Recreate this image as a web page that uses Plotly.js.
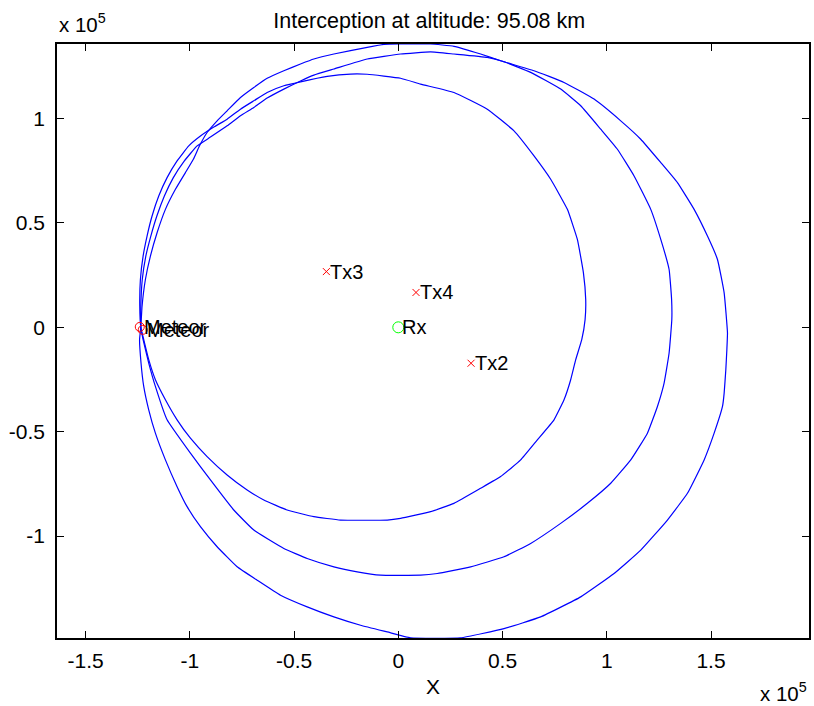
<!DOCTYPE html>
<html>
<head>
<meta charset="utf-8">
<script src="https://cdn.plot.ly/plotly-3.0.1.min.js"></script>
<style>
  html, body { margin: 0; padding: 0; background: #ffffff; }
  #chart { width: 814px; height: 706px; }
</style>
</head>
<body>
<div id="chart"></div>
<script>
// Horizontal loci (units of 1e5 m) where the summed path length matches
// the measured one, one closed curve per transmitter/receiver pair.
const locusTx3X = [-1.235, -1.240, -1.237, -1.224, -1.205, -1.181, -1.149, -1.109, -1.061, -1.005,
  -0.949, -0.885, -0.821, -0.757, -0.693, -0.629, -0.549, -0.469, -0.341, -0.229,
  -0.149, 0.011, 0.107, 0.267, 0.427, 0.555, 0.651, 0.731, 0.811, 0.859,
  0.888, 0.899, 0.896, 0.880, 0.851, 0.827, 0.795, 0.747, 0.667, 0.587,
  0.491, 0.395, 0.267, 0.155, 0.011, -0.053, -0.277, -0.405, -0.533, -0.645,
  -0.725, -0.821, -0.917, -0.997, -1.061, -1.117, -1.165, -1.197, -1.221, -1.235];
const locusTx3Y = [0.000, 0.101, 0.229, 0.341, 0.437, 0.533, 0.629, 0.717, 0.797, 0.869,
  0.916, 0.959, 0.997, 1.045, 1.085, 1.125, 1.157, 1.176, 1.202, 1.213,
  1.212, 1.193, 1.165, 1.125, 1.045, 0.941, 0.821, 0.709, 0.565, 0.421,
  0.261, 0.133, 0.037, -0.059, -0.155, -0.251, -0.347, -0.443, -0.539, -0.635,
  -0.715, -0.771, -0.843, -0.883, -0.915, -0.923, -0.923, -0.907, -0.875, -0.827,
  -0.779, -0.707, -0.619, -0.531, -0.443, -0.347, -0.251, -0.155, -0.059, 0.000];

const locusTx4X = [-1.235, -1.235, -1.228, -1.211, -1.187, -1.158, -1.122, -1.079, -1.026, -0.965,
  -0.901, -0.821, -0.757, -0.693, -0.629, -0.549, -0.469, -0.405, -0.309, -0.149,
  0.011, 0.155, 0.267, 0.427, 0.507, 0.635, 0.779, 0.875, 0.971, 1.051,
  1.131, 1.211, 1.259, 1.299, 1.311, 1.312, 1.299, 1.275, 1.243, 1.195,
  1.115, 1.019, 0.907, 0.779, 0.635, 0.507, 0.347, 0.187, 0.107, -0.085,
  -0.197, -0.309, -0.437, -0.549, -0.693, -0.789, -0.901, -0.997, -1.109, -1.165,
  -1.197, -1.224, -1.235];
const locusTx4Y = [0.000, 0.101, 0.229, 0.341, 0.437, 0.533, 0.629, 0.717, 0.797, 0.869,
  0.911, 0.965, 1.013, 1.053, 1.098, 1.141, 1.180, 1.208, 1.237, 1.285,
  1.309, 1.319, 1.309, 1.293, 1.272, 1.221, 1.141, 1.061, 0.949, 0.853,
  0.725, 0.565, 0.421, 0.277, 0.133, 0.037, -0.123, -0.267, -0.379, -0.507,
  -0.635, -0.747, -0.843, -0.939, -1.035, -1.099, -1.147, -1.179, -1.187, -1.187,
  -1.171, -1.147, -1.107, -1.059, -0.971, -0.875, -0.731, -0.603, -0.443, -0.283,
  -0.171, -0.059, 0.000];

const locusTx2X = [-1.235, -1.229, -1.213, -1.189, -1.157, -1.117, -1.069, -1.021, -0.983, -0.954,
  -0.917, -0.869, -0.821, -0.757, -0.693, -0.629, -0.549, -0.469, -0.405, -0.309,
  -0.149, -0.069, 0.011, 0.155, 0.267, 0.395, 0.491, 0.651, 0.795, 0.939,
  1.067, 1.163, 1.259, 1.339, 1.419, 1.483, 1.531, 1.563, 1.579, 1.576,
  1.571, 1.563, 1.555, 1.515, 1.467, 1.387, 1.291, 1.163, 1.035, 0.875,
  0.683, 0.507, 0.299, 0.059, -0.053, -0.181, -0.309, -0.437, -0.565, -0.677,
  -0.773, -0.869, -0.949, -1.013, -1.061, -1.117, -1.165, -1.197, -1.221, -1.234,
  -1.241, -1.235];
const locusTx2Y = [0.000, 0.101, 0.229, 0.341, 0.453, 0.565, 0.661, 0.741, 0.805, 0.868,
  0.933, 0.989, 1.037, 1.101, 1.149, 1.193, 1.229, 1.261, 1.285, 1.309,
  1.341, 1.355, 1.357, 1.357, 1.346, 1.309, 1.277, 1.229, 1.173, 1.093,
  0.989, 0.901, 0.789, 0.693, 0.565, 0.437, 0.325, 0.165, -0.027, -0.107,
  -0.203, -0.315, -0.379, -0.507, -0.635, -0.795, -0.923, -1.067, -1.179, -1.291,
  -1.387, -1.443, -1.487, -1.487, -1.459, -1.427, -1.387, -1.339, -1.283, -1.211,
  -1.147, -1.051, -0.955, -0.859, -0.763, -0.635, -0.507, -0.395, -0.283, -0.171,
  -0.059, 0.000];

// Station positions (units of 1e5 m)
const txNames = ['Tx2', 'Tx3', 'Tx4'];
const txX = [0.349, -0.345, 0.085];
const txY = [-0.172, 0.267, 0.167];
const rxNames = ['Rx'];
const rxX = [0.0];
const rxY = [0.0];
const meteorNames = ['Meteor', 'Meteor'];
const meteorX = [-1.240, -1.226];
const meteorY = [0.002, -0.012];

// Axis ticks
const xTickVals = [-1.5, -1, -0.5, 0, 0.5, 1, 1.5];
const xTickText = ['-1.5', '-1', '-0.5', '0', '0.5', '1', '1.5'];
const yTickVals = [-1, -0.5, 0, 0.5, 1];
const yTickText = ['-1', '-0.5', '0', '0.5', '1'];

const FONT = 'Arial, "Liberation Sans", Helvetica, sans-serif';
const BLUE = '#0000ff';

const locusLine = { color: BLUE, width: 1.2, shape: 'spline', smoothing: 0.35 };
const traces = [
  { x: locusTx3X, y: locusTx3Y, mode: 'lines', line: locusLine, hoverinfo: 'skip' },
  { x: locusTx4X, y: locusTx4Y, mode: 'lines', line: locusLine, hoverinfo: 'skip' },
  { x: locusTx2X, y: locusTx2Y, mode: 'lines', line: locusLine, hoverinfo: 'skip' },
  { x: txX, y: txY, mode: 'markers', hoverinfo: 'skip',
    marker: { symbol: 'x-thin-open', size: 7, color: '#ff0000', line: { color: '#ff0000', width: 1 } } },
  { x: rxX, y: rxY, mode: 'markers', hoverinfo: 'skip',
    marker: { symbol: 'circle-open', size: 11, color: '#00ff00', line: { color: '#00ff00', width: 1 } } },
  { x: meteorX, y: meteorY, mode: 'markers', hoverinfo: 'skip',
    marker: { symbol: 'circle-open', size: 9, color: '#ff0000', line: { color: '#ff0000', width: 1 } } }
];

// Point labels, left-aligned just right of each marker
function pointLabels(names, xs, ys) {
  return names.map((t, i) => ({
    x: xs[i], y: ys[i], xref: 'x', yref: 'y', text: t, showarrow: false,
    xanchor: 'left', yanchor: 'middle', xshift: 2,
    font: { family: FONT, size: 20, color: '#000000' }
  }));
}

const annotations = [
  ...pointLabels(txNames, txX, txY),
  ...pointLabels(rxNames, rxX, rxY),
  ...pointLabels(meteorNames, meteorX, meteorY),
  // axis multipliers
  { xref: 'paper', yref: 'paper', x: 0, y: 1.0106, xanchor: 'left', yanchor: 'bottom',
    text: 'x 10<sup>5</sup>', showarrow: false, font: { family: FONT, size: 20.5, color: '#000' } },
  { xref: 'paper', yref: 'paper', x: 1, y: -0.1168, xanchor: 'right', yanchor: 'bottom',
    text: 'x 10<sup>5</sup>', showarrow: false, font: { family: FONT, size: 20.5, color: '#000' } }
];

const axisCommon = {
  ticks: 'inside', ticklen: 7, tickwidth: 1, tickcolor: '#000000',
  showline: true, linecolor: '#000000', linewidth: 1.5, mirror: 'ticks',
  showgrid: false, zeroline: false, autorange: false,
  tickfont: { family: FONT, size: 21, color: '#000000' }
};

const layout = {
  width: 814, height: 706,
  margin: { l: 57, r: 5, t: 44, b: 68, pad: 0 },
  paper_bgcolor: '#ffffff', plot_bgcolor: '#ffffff',
  showlegend: false,
  font: { family: FONT, size: 20, color: '#000000' },
  title: {
    text: 'Interception at altitude: 95.08 km',
    font: { family: FONT, size: 21.5, color: '#000000' },
    xref: 'paper', x: 0.495, xanchor: 'center',
    yref: 'container', y: 0.982, yanchor: 'top'
  },
  xaxis: Object.assign({}, axisCommon, {
    range: [-1.637, 1.970], tickmode: 'array', tickvals: xTickVals, ticktext: xTickText,
    ticklabelstandoff: 3,
    title: { text: 'X', standoff: 8, font: { family: FONT, size: 21, color: '#000000' } }
  }),
  yaxis: Object.assign({}, axisCommon, {
    range: [-1.488, 1.357], tickmode: 'array', tickvals: yTickVals, ticktext: yTickText,
    ticklabelstandoff: 6
  }),
  annotations: annotations
};

Plotly.newPlot('chart', traces, layout, { displayModeBar: false, responsive: false });
</script>
</body>
</html>
